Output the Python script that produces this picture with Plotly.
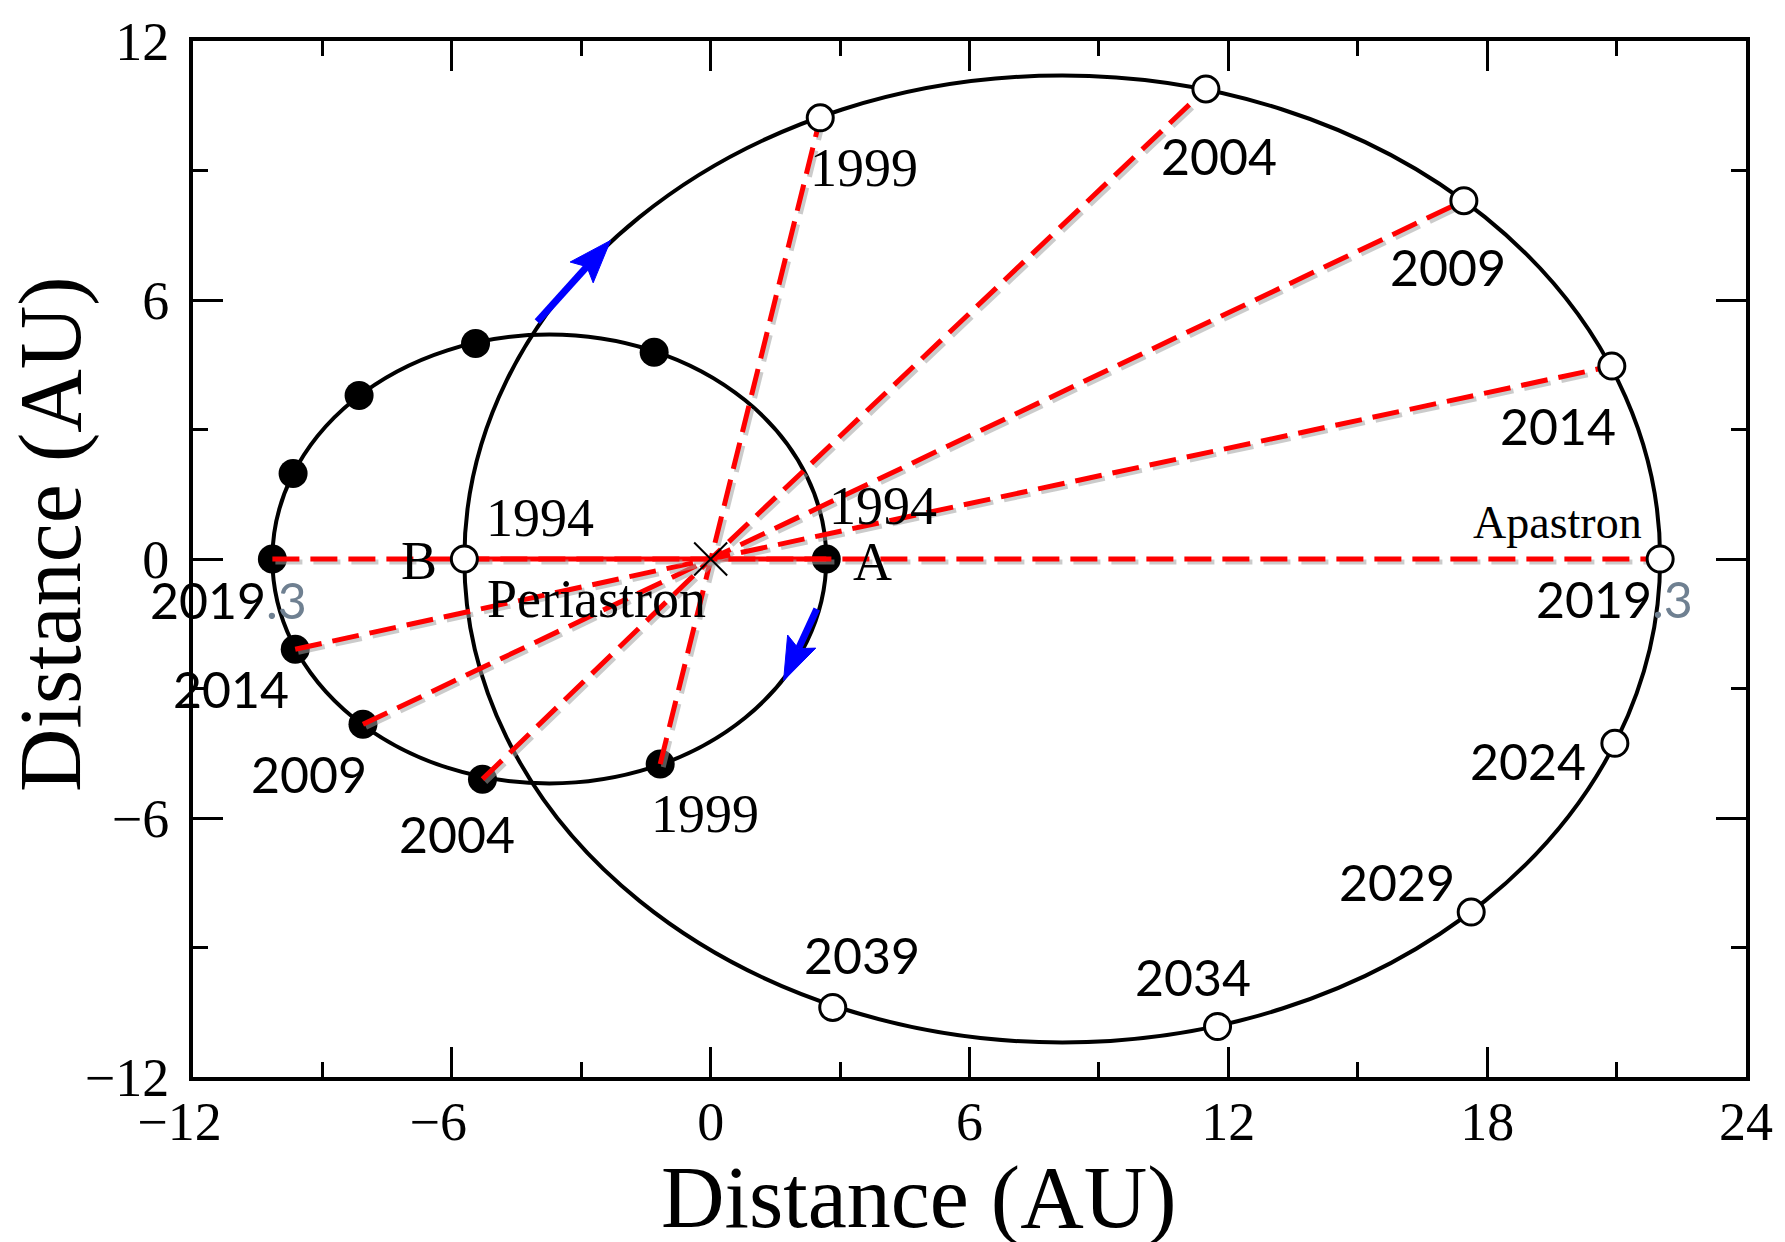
import math
import plotly.graph_objects as go

# Epochs marked along both orbits
years = ["1994", "1999", "2004", "2009", "2014", "2019.3", "2024", "2029", "2034", "2039"]

# Outer orbit (open circles), AU
outer_x = [-5.71, 2.54, 11.48, 17.46, 20.89, 22.01, 20.96, 17.63, 11.75, 2.83]
outer_y = [0.0, 10.22, 10.89, 8.30, 4.47, 0.0, -4.27, -8.18, -10.83, -10.39]

# Inner orbit (filled circles), AU
inner_x = [2.68, -1.17, -5.29, -8.06, -9.63, -10.16, -9.68, -8.15, -5.45, -1.31]
inner_y = [0.0, -4.75, -5.10, -3.83, -2.09, 0.0, 1.98, 3.79, 4.99, 4.79]

# Orbit bounding boxes: x_min, x_max, y_min, y_max
outer_orbit = [-5.71, 22.01, -11.2, 11.2]
inner_orbit = [-10.16, 2.68, -5.2, 5.2]

# Centre of mass
centre = [0.0, 0.0]

# Epochs joined through the centre of mass
linked_years = ["1994", "1999", "2004", "2009", "2014", "2019.3"]

x_ticks = [-12, -6, 0, 6, 12, 18, 24]
y_ticks = [-12, -6, 0, 6, 12]

# Direction-of-motion arrows: tail (x, y) and tip (x, y)
arrow_tail_x = [-4.02, 2.46]
arrow_tail_y = [5.50, -1.16]
arrow_tip_x = [-2.32, 1.69]
arrow_tip_y = [7.38, -2.82]

# Text labels: (text, x, y, style)
labels = [
    ("1999", 3.56, 9.05, "serif"),
    ("2004", 11.79, 9.33, "sans"),
    ("2009", 17.10, 6.77, "sans"),
    ("2014", 19.65, 3.09, "sans"),
    ("Apastron", 19.62, 0.85, "serif_small"),
    ("2019<span style='color:#6f8091'>.3</span>", 20.96, -0.92, "sans"),
    ("2024", 18.95, -4.67, "sans"),
    ("2029", 15.92, -7.48, "sans"),
    ("2034", 11.19, -9.68, "sans"),
    ("2039", 3.51, -9.17, "sans"),
    ("1994", -3.96, 0.95, "serif"),
    ("B", -6.77, -0.05, "serif"),
    ("Periastron", -2.65, -0.92, "serif"),
    ("1994", 4.0, 1.22, "serif"),
    ("A", 3.76, -0.06, "serif"),
    ("1999", -0.14, -5.91, "serif"),
    ("2004", -5.87, -6.36, "sans"),
    ("2009", -9.32, -4.97, "sans"),
    ("2014", -11.11, -3.02, "sans"),
    ("2019<span style='color:#6f8091'>.3</span>", -11.17, -0.95, "sans"),
]

SERIF = "Liberation Serif, Times New Roman, serif"
SANS = "Lato, Calibri, sans-serif"
label_fonts = {
    "serif": dict(family=SERIF, size=54, color="black"),
    "serif_small": dict(family=SERIF, size=46, color="black"),
    "sans": dict(family=SANS, size=50, color="black"),
}

fig = go.Figure()

# Inner orbit markers (drawn first so the red lines sit on top)
fig.add_trace(go.Scatter(
    x=inner_x, y=inner_y, mode="markers",
    marker=dict(symbol="circle", size=29, color="black", line=dict(width=0)),
    hoverinfo="skip", showlegend=False,
))

# Lines joining paired positions through the centre of mass, with a soft shadow
shadow_dx, shadow_dy = 0.07, -0.07
for yr in linked_years:
    i = years.index(yr)
    xs = [inner_x[i], centre[0], outer_x[i]]
    ys = [inner_y[i], centre[1], outer_y[i]]
    dash = "solid" if yr == "1994" else "27px,11px"
    if yr != "1994":
        fig.add_trace(go.Scatter(
            x=[v + shadow_dx for v in xs], y=[v + shadow_dy for v in ys], mode="lines",
            line=dict(color="rgba(160,160,160,0.55)", width=5, dash=dash),
            hoverinfo="skip", showlegend=False,
        ))
    fig.add_trace(go.Scatter(
        x=xs, y=ys, mode="lines",
        line=dict(color="#ff0000", width=5, dash=dash),
        hoverinfo="skip", showlegend=False,
    ))

# Centre-of-mass cross
fig.add_trace(go.Scatter(
    x=[centre[0]], y=[centre[1]], mode="markers",
    marker=dict(symbol="x-thin", size=33, line=dict(color="black", width=2)),
    hoverinfo="skip", showlegend=False,
))

# Outer orbit markers
fig.add_trace(go.Scatter(
    x=outer_x, y=outer_y, mode="markers",
    marker=dict(symbol="circle", size=26, color="white", line=dict(color="black", width=3)),
    hoverinfo="skip", showlegend=False,
))

# Orbits
for box in (outer_orbit, inner_orbit):
    fig.add_shape(
        type="circle", xref="x", yref="y",
        x0=box[0], x1=box[1], y0=box[2], y1=box[3],
        line=dict(color="black", width=4), layer="below",
    )

# Blue motion arrows: shaft plus a notched head, in axis units
HEAD_LEN, HEAD_HALF_W, NOTCH = 1.0, 0.36, 0.18
for tx, ty, hx, hy in zip(arrow_tail_x, arrow_tail_y, arrow_tip_x, arrow_tip_y):
    length = math.hypot(hx - tx, hy - ty)
    ux, uy = (hx - tx) / length, (hy - ty) / length
    nx, ny = -uy, ux
    bx, by = hx - ux * HEAD_LEN, hy - uy * HEAD_LEN
    mx, my = bx + ux * NOTCH, by + uy * NOTCH
    fig.add_shape(type="line", xref="x", yref="y", x0=tx, y0=ty, x1=mx, y1=my,
                  line=dict(color="#0000ff", width=7))
    path = (f"M{hx},{hy} L{bx + nx * HEAD_HALF_W},{by + ny * HEAD_HALF_W} "
            f"L{mx},{my} L{bx - nx * HEAD_HALF_W},{by - ny * HEAD_HALF_W} Z")
    fig.add_shape(type="path", xref="x", yref="y", path=path,
                  fillcolor="#0000ff", line=dict(color="#0000ff", width=1))

annotations = []
for text, x, y, style in labels:
    annotations.append(dict(
        text=text, x=x, y=y, xref="x", yref="y", showarrow=False,
        xanchor="center", yanchor="middle", font=label_fonts[style],
    ))

# Axis titles
annotations.append(dict(
    text="Distance (AU)", x=4.82, y=-0.1165, xref="x", yref="paper", showarrow=False,
    xanchor="center", yanchor="middle", font=dict(family=SERIF, size=88, color="black"),
))
annotations.append(dict(
    text="Distance (AU)", x=-0.0918, y=0.59, xref="paper", yref="y", showarrow=False,
    textangle=-90, xanchor="center", yanchor="middle",
    font=dict(family=SERIF, size=88, color="black"),
))

# Tick text: digits centred on the tick, minus sign hanging to the left
x_ticktext = [("\u2212" + str(abs(v)) + "\u2002") if v < 0 else str(v) for v in x_ticks]
y_ticktext = [("\u2212" + str(abs(v))) if v < 0 else str(v) for v in y_ticks]

axis_common = dict(
    showgrid=False, zeroline=False, showline=True, linecolor="black", linewidth=4,
    mirror="ticks", ticks="inside", ticklen=30, tickwidth=3, tickcolor="black",
    tickfont=dict(family=SERIF, size=54, color="black"),
    minor=dict(ticks="inside", ticklen=15, tickwidth=3, tickcolor="black", dtick=3),
)

fig.update_layout(
    width=1785, height=1242,
    margin=dict(l=193, r=35, t=38, b=165),
    paper_bgcolor="white", plot_bgcolor="white",
    xaxis=dict(range=[-12, 24], tickmode="array", tickvals=x_ticks, ticktext=x_ticktext,
               ticklabelstandoff=-6, **axis_common),
    yaxis=dict(range=[-12, 12], tickmode="array", tickvals=y_ticks, ticktext=y_ticktext,
               ticklabelstandoff=9, **axis_common),
    annotations=annotations,
    showlegend=False,
)

fig.write_html("out.html")
